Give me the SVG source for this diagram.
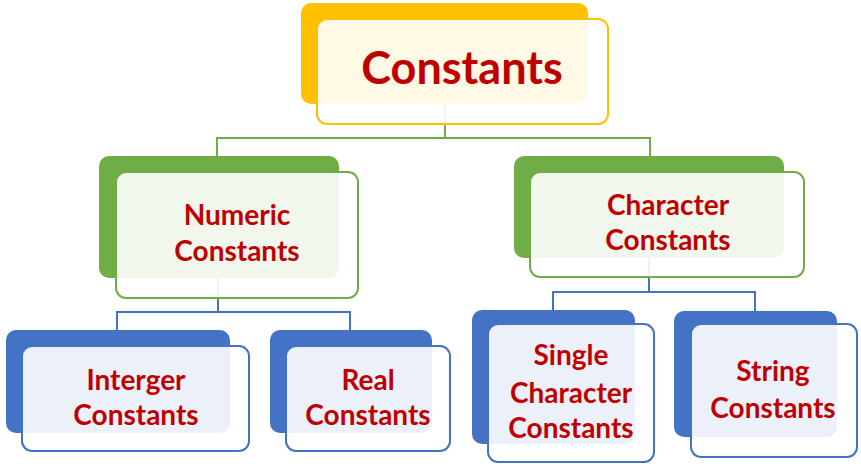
<svg xmlns="http://www.w3.org/2000/svg" width="861" height="469" viewBox="0 0 861 469">
<style>
.bg{fill:#ffffff}
.by{fill:#FFC000}.bgn{fill:#70AD47}.bb{fill:#4472C4}
.f{fill:#ffffff;fill-opacity:0.9;stroke-width:2}
.fy{stroke:#FFC000}.fg{stroke:#70AD47}.fb{stroke:#4472C4}
.t{font-family:Lato,"Liberation Sans",sans-serif;font-weight:bold;fill:#C00000;text-anchor:middle}
.s{font-size:28px}.l{font-size:45px}
.cg{fill:none;stroke:#70AD47;stroke-width:2}
.cb{fill:none;stroke:#4472C4;stroke-width:2}
</style>
<rect class="bg" width="861" height="469"/>
<g id="connectors">
<path class="cg" d="M445 104V138M217 156V138H650V156"/>
<path class="cb" d="M218 278V312M117 330V312H350V330"/>
<path class="cb" d="M649 258V292M553 310V292H755V311"/>
</g>
<g id="constants">
<rect class="by" x="301" y="3" width="287" height="101" rx="10"/>
<rect class="f fy" x="317" y="19" width="291" height="105" rx="10"/>
<text class="t l" x="462" y="84">Constants</text>
</g>
<g id="numeric">
<rect class="bgn" x="99" y="156" width="240" height="122" rx="10"/>
<rect class="f fg" x="116" y="172" width="242" height="126" rx="10"/>
<text class="t s" x="237" y="225">Numeric</text>
<text class="t s" x="237" y="261">Constants</text>
</g>
<g id="character">
<rect class="bgn" x="514" y="156" width="270" height="102" rx="10"/>
<rect class="f fg" x="530" y="172" width="274" height="105" rx="10"/>
<text class="t s" x="668" y="215">Character</text>
<text class="t s" x="668" y="250">Constants</text>
</g>
<g id="interger">
<rect class="bb" x="6" y="330" width="224" height="103" rx="10"/>
<rect class="f fb" x="22" y="346" width="227" height="105" rx="10"/>
<text class="t s" x="136" y="390">Interger</text>
<text class="t s" x="136" y="425">Constants</text>
</g>
<g id="real">
<rect class="bb" x="270" y="330" width="162" height="103" rx="10"/>
<rect class="f fb" x="286" y="346" width="164" height="105" rx="10"/>
<text class="t s" x="368" y="390">Real</text>
<text class="t s" x="368" y="425">Constants</text>
</g>
<g id="single">
<rect class="bb" x="472" y="310" width="163" height="134" rx="10"/>
<rect class="f fb" x="488" y="324" width="166" height="138" rx="10"/>
<text class="t s" x="571" y="365">Single</text>
<text class="t s" x="571" y="403">Character</text>
<text class="t s" x="571" y="438">Constants</text>
</g>
<g id="string">
<rect class="bb" x="674" y="311" width="163" height="126" rx="10"/>
<rect class="f fb" x="691" y="324" width="166" height="133" rx="10"/>
<text class="t s" x="773" y="381">String</text>
<text class="t s" x="773" y="418">Constants</text>
</g>
</svg>
